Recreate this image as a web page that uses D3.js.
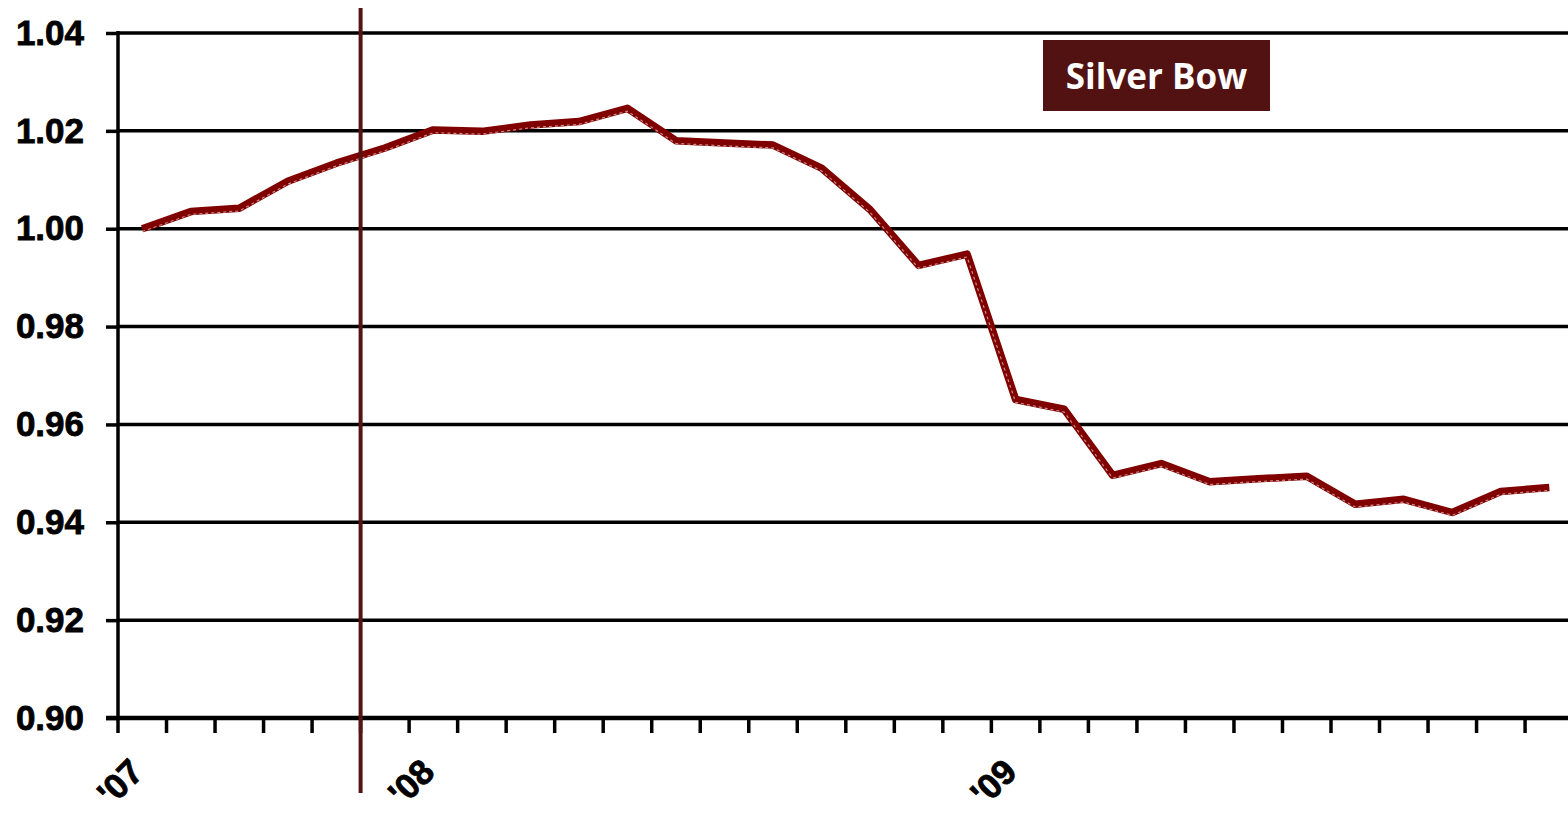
<!DOCTYPE html>
<html>
<head>
<meta charset="utf-8">
<script src="https://cdn.jsdelivr.net/npm/d3@7"></script>
<style>
  body { margin: 0; background: #fff; }
  svg { display: block; }
</style>
</head>
<body>
<div id="chart"></div>
<script>
// monthly, Jul 2007 .. Dec 2009
var months = ["2007-07", "2007-08", "2007-09", "2007-10", "2007-11", "2007-12",
    "2008-01", "2008-02", "2008-03", "2008-04", "2008-05", "2008-06",
    "2008-07", "2008-08", "2008-09", "2008-10", "2008-11", "2008-12",
    "2009-01", "2009-02", "2009-03", "2009-04", "2009-05", "2009-06",
    "2009-07", "2009-08", "2009-09", "2009-10", "2009-11", "2009-12"];

var values = [1.000, 1.0035, 1.0042, 1.0097, 1.0134, 1.0165,
    1.0202, 1.0199, 1.0212, 1.0219, 1.0246, 1.0180,
    1.0175, 1.0171, 1.0124, 1.0039, 0.9925, 0.9948,
    0.9651, 0.9631, 0.9496, 0.9520, 0.9483, 0.9489,
    0.9494, 0.9437, 0.9447, 0.9420, 0.9463, 0.9471];

var yTicks = [0.90, 0.92, 0.94, 0.96, 0.98, 1.00, 1.02, 1.04];
var yearLabels = [
    { month: "2007-07", text: "'07" },
    { month: "2008-01", text: "'08" },
    { month: "2009-01", text: "'09" }
];
var markerMonth = "2007-12";   // recession start
var seriesName = "Silver Bow";

var svg = d3.select('#chart')
    .append('svg')
    .attr('width', 1568)
    .attr('height', 814);

var plotLeft = 118, plotTop = 33, plotBottom = 718;
var bandW = 48.52;

var x = d3.scaleBand()
    .domain(months)
    .range([plotLeft, plotLeft + bandW * months.length]);
var y = d3.scaleLinear()
    .domain([0.90, 1.04])
    .range([plotBottom, plotTop]);

// gridlines
svg.append("g")
    .selectAll("line")
    .data(yTicks.slice(1))
    .enter().append("line")
    .attr("x1", plotLeft)
    .attr("x2", 1568)
    .attr("y1", function (d) { return y(d); })
    .attr("y2", function (d) { return y(d); })
    .attr("stroke", "#000")
    .attr("stroke-width", 3.5);

// y axis
var yAxis = svg.append("g")
    .attr("transform", "translate(" + plotLeft + ",0)")
    .call(d3.axisLeft(y).tickValues(yTicks).tickSize(12).tickPadding(22)
        .tickFormat(d3.format(".2f")));
yAxis.select(".domain").attr("stroke", "#000").attr("stroke-width", 3.5)
    .attr("d", "M0," + plotBottom + "V" + (plotTop - 2));
yAxis.selectAll(".tick line").attr("stroke", "#000").attr("stroke-width", 3.5);
yAxis.selectAll(".tick text")
    .attr("fill", "#000")
    .attr("stroke", "#000")
    .attr("stroke-width", 0.8)
    .style("font-family", "'Liberation Sans', Arial, sans-serif")
    .style("font-weight", "bold")
    .style("font-size", "35px");

// x axis: ticks on month boundaries
var boundaries = months.map(function (m) { return x(m); });
var xAxis = svg.append("g");
xAxis.selectAll("line")
    .data(boundaries)
    .enter().append("line")
    .attr("x1", function (d) { return d; })
    .attr("x2", function (d) { return d; })
    .attr("y1", plotBottom)
    .attr("y2", plotBottom + 15)
    .attr("stroke", "#000")
    .attr("stroke-width", 3.5);
xAxis.append("line")
    .attr("x1", plotLeft - 12)
    .attr("x2", 1568)
    .attr("y1", plotBottom)
    .attr("y2", plotBottom)
    .attr("stroke", "#000")
    .attr("stroke-width", 4.5);

xAxis.selectAll("text")
    .data(yearLabels)
    .enter().append("text")
    .attr("transform", function (d) {
        return "translate(" + (x(d.month) + 2) + ",782) rotate(-45)";
    })
    .attr("text-anchor", "middle")
    .attr("dy", "0.35em")
    .attr("stroke", "#000")
    .attr("stroke-width", 0.8)
    .style("font-family", "'Liberation Sans', Arial, sans-serif")
    .style("font-weight", "bold")
    .style("font-size", "35px")
    .text(function (d) { return d.text; });

// series line
var line = d3.line()
    .x(function (d, i) { return x(months[i]) + x.bandwidth() / 2; })
    .y(function (d) { return y(d); });

svg.append("path")
    .datum(values)
    .attr("fill", "none")
    .attr("stroke", "#800000")
    .attr("stroke-width", 7.5)
    .attr("stroke-linejoin", "round")
    .attr("d", line);

svg.append("path")
    .datum(values)
    .attr("fill", "none")
    .attr("stroke", "#c88a8a")
    .attr("stroke-width", 1.2)
    .attr("stroke-dasharray", "3,3")
    .attr("transform", "translate(0,2.8)")
    .attr("d", line);

// recession marker
svg.append("line")
    .attr("x1", x(markerMonth))
    .attr("x2", x(markerMonth))
    .attr("y1", 8)
    .attr("y2", 793)
    .attr("stroke", "#541414")
    .attr("stroke-width", 4);

// legend label
var legend = svg.append("g").attr("transform", "translate(1043,40)");
legend.append("rect")
    .attr("width", 227)
    .attr("height", 71)
    .attr("fill", "#521212");
legend.append("text")
    .attr("x", 113.5)
    .attr("y", 37)
    .attr("dy", "0.35em")
    .attr("text-anchor", "middle")
    .attr("fill", "#fff")
    .style("font-family", "'Open Sans', sans-serif")
    .style("font-weight", 700)
    .style("font-size", "35px")
    .text(seriesName);
</script>
</body>
</html>
